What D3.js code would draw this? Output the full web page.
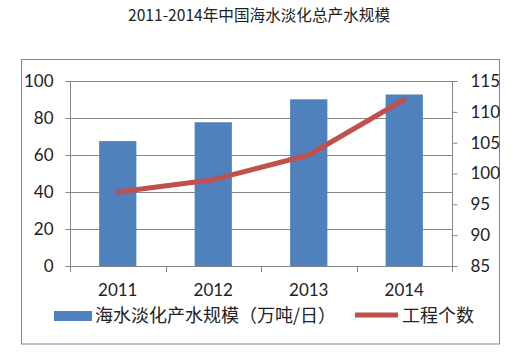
<!DOCTYPE html>
<html><head><meta charset="utf-8">
<script src="https://cdn.jsdelivr.net/npm/d3@7"></script>
<style>body{margin:0;background:#fff}svg{display:block}</style>
</head><body>
<svg id="c" width="519" height="356"></svg>
<script>
const title = "2011-2014年中国海水淡化总产水规模";
const years = ["2011", "2012", "2013", "2014"];
const capacity = [67.5, 77.7, 90.1, 92.7];
const projects = [97, 99, 103, 112];
const leftTicks = [0, 20, 40, 60, 80, 100];
const rightTicks = [85, 90, 95, 100, 105, 110, 115];
const legendNames = ["海水淡化产水规模（万吨/日）", "工程个数"];

const svg = d3.select("#c");
const grey = "#868686";
const blue = "#4F81BD", red = "#C0504D";
const numFont = "Lato, 'Open Sans', sans-serif";
const cjkFont = "'Noto Sans CJK SC', sans-serif";

const L = 70, R = 452, T = 81, B = 266;
const x = d3.scaleBand().domain(years).range([L, R]).paddingInner(0.61).paddingOuter(0.305);
const yl = d3.scaleLinear().domain([0, 100]).range([B, T]);
const yr = d3.scaleLinear().domain([85, 115]).range([B, T]);

svg.append("rect").attr("x", 21.5).attr("y", 59.5).attr("width", 478).attr("height", 284.5)
  .attr("fill", "none").attr("stroke", grey);

svg.append("text").attr("x", 259).attr("y", 21).attr("text-anchor", "middle")
  .attr("font-family", cjkFont).attr("font-size", 16).attr("fill", "#222")
  .attr("textLength", 262).attr("lengthAdjust", "spacingAndGlyphs").text(title);

// gridlines
svg.append("g").selectAll("line").data(leftTicks).join("line")
  .attr("x1", L).attr("x2", R).attr("y1", d => Math.round(yl(d)) + 0.5).attr("y2", d => Math.round(yl(d)) + 0.5)
  .attr("stroke", grey);

// left axis
const ga = svg.append("g").attr("transform", `translate(${L + 0.5},0)`)
  .call(d3.axisLeft(yl).tickValues(leftTicks).tickSize(5).tickPadding(12).tickSizeOuter(0));
// right axis
const gb = svg.append("g").attr("transform", `translate(${R + 0.5},0)`)
  .call(d3.axisRight(yr).tickValues(rightTicks).tickSize(5).tickPadding(13).tickSizeOuter(0));
[ga, gb].forEach(g => {
  g.select(".domain").remove();
  g.selectAll("line").attr("stroke", grey);
  g.selectAll("text").attr("font-family", numFont).attr("font-size", 17).attr("fill", "#222");
});
svg.append("line").attr("x1", L + 0.5).attr("x2", L + 0.5).attr("y1", T).attr("y2", B + 6).attr("stroke", grey);
svg.append("line").attr("x1", R + 0.5).attr("x2", R + 0.5).attr("y1", T).attr("y2", B + 6).attr("stroke", grey);

// bars
svg.append("g").selectAll("rect").data(years).join("rect")
  .attr("x", d => x(d)).attr("width", x.bandwidth())
  .attr("y", (d, i) => yl(capacity[i])).attr("height", (d, i) => B - yl(capacity[i]))
  .attr("fill", blue);

// x axis
const step = x.step();
svg.append("g").selectAll("line").data(years.slice(1)).join("line")
  .attr("x1", d => Math.round(x(d) - x.paddingInner() * step / 2) + 0.5)
  .attr("x2", d => Math.round(x(d) - x.paddingInner() * step / 2) + 0.5)
  .attr("y1", B).attr("y2", B + 6).attr("stroke", grey);
svg.append("g").selectAll("text").data(years).join("text")
  .attr("x", d => x(d) + x.bandwidth() / 2).attr("y", 296).attr("text-anchor", "middle")
  .attr("font-family", numFont).attr("font-size", 17).attr("fill", "#222").text(d => d);

// line
const line = d3.line().x((d, i) => x(years[i]) + x.bandwidth() / 2).y(d => yr(d));
svg.append("path").datum(projects).attr("d", line).attr("fill", "none")
  .attr("stroke", red).attr("stroke-width", 5).attr("stroke-linecap", "round").attr("stroke-linejoin", "round");

// legend
svg.append("rect").attr("x", 54).attr("y", 311).attr("width", 38).attr("height", 10).attr("fill", blue);
svg.append("text").attr("x", 95).attr("y", 322).attr("font-family", cjkFont).attr("font-size", 18)
  .attr("fill", "#222").text(legendNames[0]);
svg.append("line").attr("x1", 355).attr("x2", 398).attr("y1", 315).attr("y2", 315)
  .attr("stroke", red).attr("stroke-width", 5);
svg.append("text").attr("x", 402).attr("y", 322).attr("font-family", cjkFont).attr("font-size", 18)
  .attr("fill", "#222").text(legendNames[1]);
</script>
</body></html>
